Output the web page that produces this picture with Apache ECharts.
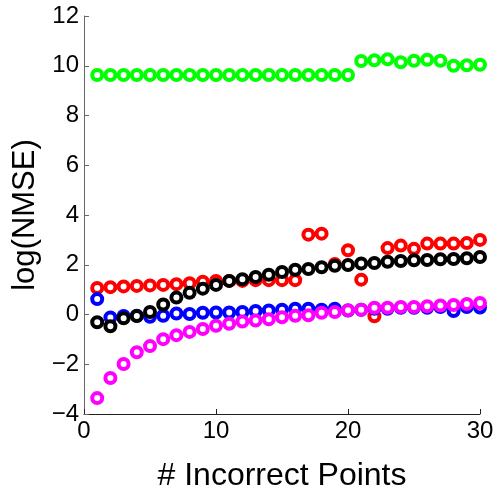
<!DOCTYPE html>
<html><head><meta charset="utf-8">
<script src="https://cdn.jsdelivr.net/npm/echarts@6/dist/echarts.min.js"></script>
<style>html,body{margin:0;padding:0;background:#fff}#c{width:504px;height:497px}</style>
</head><body><div id="c"></div>
<script>
const xs = [1,2,3,4,5,6,7,8,9,10,11,12,13,14,15,16,17,18,19,20,21,22,23,24,25,26,27,28,29,30];
const green = [9.63,9.63,9.63,9.63,9.63,9.63,9.63,9.63,9.63,9.63,9.63,9.63,9.63,9.63,9.63,9.63,9.63,9.63,9.63,9.63,10.19,10.22,10.26,10.14,10.2,10.24,10.2,10.0,10.02,10.04];
const red = [1.07,1.1,1.13,1.15,1.17,1.19,1.22,1.26,1.32,1.35,1.35,1.35,1.38,1.38,1.38,1.38,3.21,3.25,2.03,2.58,1.4,-0.07,2.67,2.77,2.64,2.85,2.85,2.85,2.87,3.0];
const blue = [0.62,-0.12,-0.06,-0.05,-0.09,-0.05,0.04,0.02,0.07,0.08,0.08,0.1,0.14,0.16,0.19,0.23,0.23,0.19,0.23,0.16,0.19,0.23,0.23,0.27,0.27,0.27,0.3,0.14,0.3,0.28];
const black = [-0.31,-0.47,-0.15,-0.06,0.1,0.4,0.68,0.87,1.04,1.19,1.35,1.42,1.51,1.6,1.71,1.8,1.83,1.9,1.96,1.99,2.05,2.07,2.12,2.15,2.18,2.19,2.22,2.23,2.26,2.31];
const magenta = [-3.36,-2.55,-1.99,-1.52,-1.27,-0.99,-0.83,-0.7,-0.58,-0.45,-0.37,-0.28,-0.24,-0.19,-0.11,-0.05,-0.03,0.07,0.1,0.17,0.19,0.27,0.27,0.3,0.3,0.33,0.36,0.38,0.42,0.46];
const xTicks = [0,10,20,30];
const yTicks = [-4,-2,0,2,4,6,8,10,12];

const ff = '"Liberation Sans", Arial, sans-serif';
function ser(name, vals, col){
  return {name, type:'scatter', data: xs.map((x,i)=>[x, vals[i]]),
    symbol:'circle', symbolSize:10,
    itemStyle:{color:'#fff', borderColor:col, borderWidth:4, opacity:1},
    emphasis:{disabled:true}, animation:false};
}
const fmt = v => String(v).replace('-', '\u2212');
const chart = echarts.init(document.getElementById('c'), null, {renderer:'canvas'});
chart.setOption({
  animation:false,
  backgroundColor:'#fff',
  grid:{left:84, right:24, top:16, bottom:65},
  xAxis:{type:'value', min:xTicks[0], max:xTicks[xTicks.length-1], interval:10,
    name:'# Incorrect Points', nameLocation:'middle', nameGap:46,
    nameTextStyle:{fontFamily:ff, fontSize:32, color:'#000'},
    axisLine:{onZero:false, lineStyle:{color:'#222', width:1}},
    axisTick:{inside:true, length:5, lineStyle:{color:'#222'}},
    axisLabel:{fontFamily:ff, fontSize:24, color:'#000', margin:5, formatter:fmt},
    splitLine:{show:false}},
  yAxis:{type:'value', min:yTicks[0], max:yTicks[yTicks.length-1], interval:2,
    name:'log(NMSE)', nameLocation:'middle', nameGap:40,
    nameTextStyle:{fontFamily:ff, fontSize:31, color:'#000'},
    axisLine:{onZero:false, lineStyle:{color:'#666', width:1}},
    axisTick:{inside:true, length:5, lineStyle:{color:'#666'}},
    axisLabel:{fontFamily:ff, fontSize:24, color:'#000', margin:5, formatter:fmt},
    splitLine:{show:false}},
  series:[
    ser('green', green, '#00ff00'),
    ser('red', red, '#ff0000'),
    ser('blue', blue, '#0000ff'),
    ser('black', black, '#000000'),
    ser('magenta', magenta, '#ff00ff')
  ]
});
</script></body></html>
